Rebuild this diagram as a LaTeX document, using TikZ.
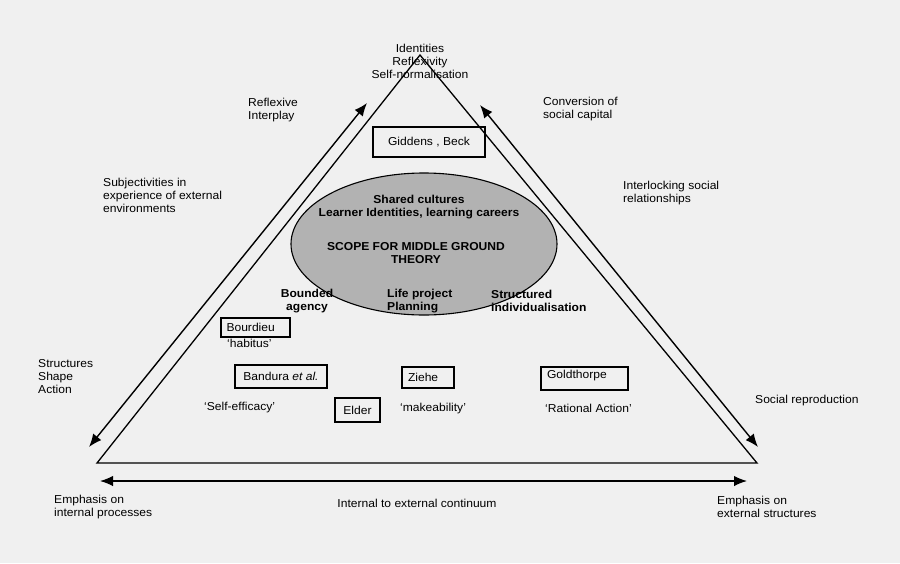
\documentclass[tikz,border=0pt]{standalone}
\usepackage{fontspec}
\setmainfont{Liberation Sans}[FakeStretch=1.05]
\usetikzlibrary{arrows.meta,shapes.geometric}
\begin{document}
\begin{tikzpicture}[x=1pt,y=-1pt,
 txt/.style={font=\fontsize{11.5}{13}\selectfont, inner sep=0pt, text=black},
 btxt/.style={txt, font=\fontsize{11.5}{13}\selectfont\bfseries},
 box/.style={txt, draw=black, line width=2.4pt, inner sep=0pt},
 side/.style={line width=1.3pt, draw=black},
 arr/.style={line width=1.4pt, draw=black, {Latex[length=13pt,width=10.5pt]}-{Latex[length=13pt,width=10.5pt]}}]
\fill[black!6] (0,0) rectangle (900,563);
\useasboundingbox (0,0) rectangle (900,563);

% ellipse
\node[ellipse, draw=black, line width=1.1pt, fill=black!30, minimum width=266pt, minimum height=142pt] (scope) at (424,244) {};

% triangle
\coordinate (A) at (420,55);
\coordinate (B) at (97,463);
\coordinate (C) at (757,463);
\draw[side, line join=miter] (B) -- (A) -- (C) -- cycle;

% arrows
\coordinate (l1) at (89,447);
\coordinate (l2) at (367,103);
\coordinate (r1) at (480,105);
\coordinate (r2) at (758,447);
\coordinate (b1) at (100,481);
\coordinate (b2) at (747,481);
\draw[arr] (l1) -- (l2);
\draw[arr] (r1) -- (r2);
\draw[arr] (b1) -- (b2);

% outer labels
\node[txt, align=center] (apex) at (420,61) {Identities\\Reflexivity\\Self-normalisation};
\node[txt, align=left, anchor=west] (refl) at (248,110) {Reflexive\\Interplay};
\node[txt, align=left, anchor=west] (subj) at (103,195) {Subjectivities in\\experience of external\\environments};
\node[txt, align=left, anchor=west] (conv) at (543,109) {Conversion of\\social capital};
\node[txt, align=left, anchor=west] (inter) at (623,193) {Interlocking social\\relationships};
\node[txt, align=left, anchor=west] (ssa) at (38,377) {Structures\\Shape\\Action};
\node[txt, anchor=west] (socrep) at (755,401) {Social reproduction};
\node[txt, align=left, anchor=west] (empi) at (54,507) {Emphasis on\\internal processes};
\node[txt, align=left, anchor=west] (empe) at (717,507) {Emphasis on\\external structures};
\node[txt] (cont) at (417,503) {Internal to external continuum};

% ellipse texts
\node[btxt, align=center] (shared) at (419,207) {Shared cultures\\Learner Identities, learning careers};
\node[btxt, align=center] (mgt) at (416,253) {SCOPE FOR MIDDLE GROUND\\THEORY};
\node[btxt, align=center] (bounded) at (307,301) {Bounded\\agency};
\node[btxt, align=left, anchor=west] (life) at (387,301) {Life project\\Planning};
\node[btxt, align=left, anchor=west] (struct) at (491,301) {Structured\\individualisation};

% boxes
\node[box, minimum width=112pt, minimum height=30pt] (giddens) at (429,142) {Giddens , Beck};
\node[box, minimum width=69pt, minimum height=19pt, text width=58pt, align=left] (bourdieu) at (255.5,327.5) {Bourdieu};
\node[txt, anchor=west] (habitus) at (227,343) {‘habitus’};
\node[box, minimum width=92pt, minimum height=23pt] (bandura) at (281,376.5) {Bandura \textit{et al.}};
\node[txt, anchor=west] (selfeff) at (204,408) {‘Self-efficacy’};
\node[box, minimum width=45pt, minimum height=24pt] (elder) at (357.5,410) {Elder};
\node[box, minimum width=52pt, minimum height=21pt, text width=40pt, align=left] (ziehe) at (428,377.5) {Ziehe};
\node[txt, anchor=west] (make) at (400,409) {‘makeability’};
\node[box, minimum width=87pt, minimum height=23pt, text width=75pt, align=left, text depth=9pt] (gold) at (584.5,378.5) {Goldthorpe};
\node[txt, anchor=west] (ration) at (545,408) {‘Rational Action’};
\end{tikzpicture}
\end{document}
